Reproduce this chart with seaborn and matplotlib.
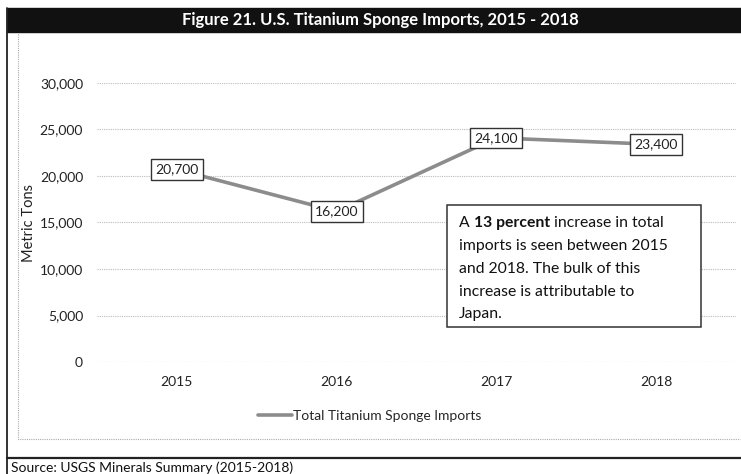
import matplotlib
matplotlib.use("Agg")
import matplotlib.pyplot as plt
import seaborn as sns
import pandas as pd
from matplotlib.patches import Rectangle
from matplotlib.lines import Line2D

years = ["2015", "2016", "2017", "2018"]
imports = [20700, 16200, 24100, 23400]
yticks = [0, 5000, 10000, 15000, 20000, 25000, 30000]
series_name = "Total Titanium Sponge Imports"
title = "Figure 21. U.S. Titanium Sponge Imports, 2015 - 2018"
ylabel = "Metric Tons"
source = "Source: USGS Minerals Summary (2015-2018)"

df = pd.DataFrame({"Year": years, "Imports": imports, "Series": series_name})

sns.set_theme(style="white")
FONT = ["Lato", "DejaVu Sans"]
plt.rcParams["font.family"] = FONT

W, H = 741, 474
fig = plt.figure(figsize=(W / 100, H / 100), dpi=100)

def fx(px):
    return px / W

def fy(py):
    return 1 - py / H

# outer frame and title bar
fig.lines.append(Line2D([fx(7), fx(7)], [fy(8), fy(474)], transform=fig.transFigure,
                        color="#222222", lw=1.3))
fig.lines.append(Line2D([fx(7), fx(741)], [fy(458), fy(458)], transform=fig.transFigure,
                        color="#222222", lw=1.6))
fig.patches.append(Rectangle((fx(7), fy(32)), fx(741) - fx(7), fy(8) - fy(32),
                             transform=fig.transFigure, fc="#111111", ec="#111111", lw=1))
fig.text(fx(380), fy(20), title, color="white", fontsize=12, fontweight="bold",
         ha="center", va="center")
# chart area dotted border
fig.lines.append(Line2D([fx(18), fx(18), fx(740)], [fy(34), fy(439), fy(439)],
                        transform=fig.transFigure, color="#aaaaaa", lw=0.8, ls=(0, (1, 1))))
fig.text(fx(11), fy(468), source, fontsize=10, ha="left", va="center", color="#111111")

ax = fig.add_axes([fx(97), fy(362), fx(736) - fx(97), fy(83) - fy(362)])
sns.lineplot(data=df, x="Year", y="Imports", ax=ax, color="#8c8c8c", linewidth=2.6,
             sort=False, legend=False)
ax.set_xlim(-0.5, len(years) - 0.5)
ax.set_ylim(0, 30000)
ax.set_yticks(yticks)
ax.set_yticklabels([f"{v:,}" for v in yticks])
ax.tick_params(axis="both", length=0, labelsize=10, colors="#222222")
ax.tick_params(axis="y", pad=10)
ax.tick_params(axis="x", pad=10)
for s in ax.spines.values():
    s.set_visible(False)
ax.grid(axis="y", color="#bbbbbb", lw=0.8, ls=(0, (1, 1)))
ax.set_axisbelow(True)
ax.set_xlabel("")
ax.set_ylabel(ylabel, fontsize=10.5, color="#222222")
ax.yaxis.set_label_coords((36 - 97) / (736 - 97), 0.5)

for i, v in enumerate(imports):
    ax.text(i, v, f"{v:,}", ha="center", va="center", fontsize=10, color="#222222",
            bbox=dict(boxstyle="square,pad=0.3", fc="white", ec="#333333", lw=1), zorder=5)

# legend
ax.legend(handles=[Line2D([], [], color="#8c8c8c", lw=2.6)], labels=[series_name],
          loc="center", bbox_to_anchor=(fx(370), fy(416)), bbox_transform=fig.transFigure,
          frameon=False, fontsize=10, handlelength=2.4, handletextpad=0.1)

# annotation box
fig.patches.append(Rectangle((fx(447), fy(327)), fx(701) - fx(447), fy(205) - fy(327),
                             transform=fig.transFigure, fc="white", ec="#333333", lw=1.1, zorder=10))
fs = 11.3
lines = [
    [("A ", "normal"), ("13 percent", "bold"), (" increase in total", "normal")],
    [("imports is seen between 2015", "normal")],
    [("and 2018. The bulk of this", "normal")],
    [("increase is attributable to", "normal")],
    [("Japan.", "normal")],
]
ys = [223, 246, 269, 292, 314]
fig.canvas.draw()
renderer = fig.canvas.get_renderer()
for parts, yy in zip(lines, ys):
    x = fx(459)
    for txt, wt in parts:
        t = fig.text(x, fy(yy), txt, fontsize=fs, fontweight=wt, ha="left", va="center",
                     color="#111111", zorder=11)
        bb = t.get_window_extent(renderer=renderer)
        x += bb.width / W

fig.savefig("out.png", dpi=100)
